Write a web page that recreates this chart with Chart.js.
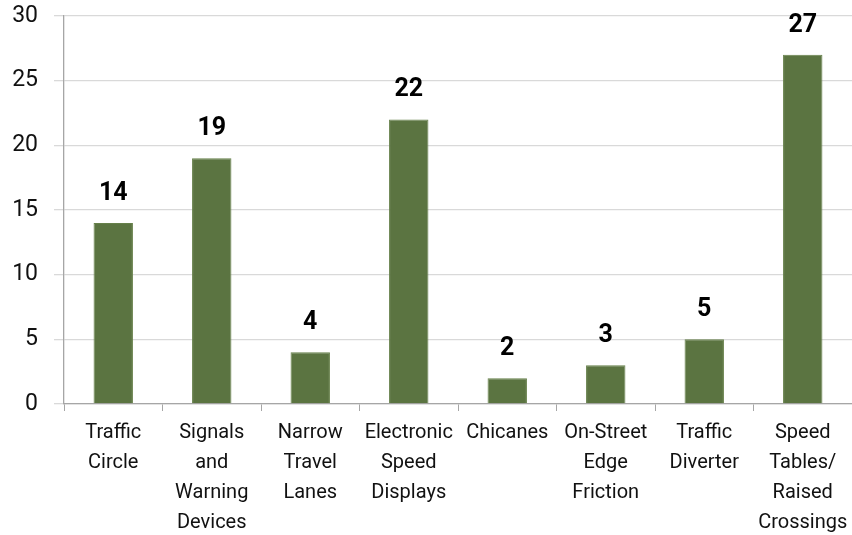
<!DOCTYPE html>
<html>
<head>
<meta charset="utf-8">
<script src="https://cdn.jsdelivr.net/npm/chart.js@4"></script>
<style>
  html, body { margin: 0; padding: 0; background: #fff; }
  #wrap { width: 852px; height: 535px; }
</style>
</head>
<body>
<div id="wrap"><canvas id="measures"></canvas></div>
<script>
var categories = [
	["Traffic", "Circle"],
	["Signals", "and", "Warning", "Devices"],
	["Narrow", "Travel", "Lanes"],
	["Electronic", "Speed", "Displays"],
	["Chicanes"],
	["On-Street", "Edge", "Friction"],
	["Traffic", "Diverter"],
	["Speed", "Tables/", "Raised", "Crossings"]
];
var counts = [14, 19, 4, 22, 2, 3, 5, 27];
var yTicks = [0, 5, 10, 15, 20, 25, 30];

// value labels above each bar
var barValues = {
	id : "barValues",
	afterDatasetsDraw : function(chart) {
		var ctx = chart.ctx;
		var meta = chart.getDatasetMeta(0);
		ctx.save();
		ctx.font = "bold 25px Roboto";
		ctx.fillStyle = "#000";
		ctx.textAlign = "center";
		ctx.textBaseline = "alphabetic";
		meta.data.forEach(function(bar, i) {
			ctx.fillText(String(counts[i]), bar.x, bar.y - 23);
		});
		ctx.restore();
	}
};

var ctx = document.getElementById("measures");

new Chart(ctx, {
	type : "bar",
	data : {
		labels : categories,
		datasets : [{
			data : counts,
			backgroundColor : "#5b7441",
			borderColor : "#66804a",
			borderWidth : 1,
			categoryPercentage : 1,
			barPercentage : 0.4
		}]
	},
	options : {
		responsive : true,
		maintainAspectRatio : false,
		animation : false,
		layout : { padding : { top : 16, left : 0, right : 0, bottom : 0 } },
		plugins : {
			legend : { display : false },
			tooltip : { enabled : false }
		},
		scales : {
			x : {
				afterFit : function(scale) {
					scale.height = 131;
					scale.paddingLeft = 0;
					scale.paddingRight = 0;
				},
				grid : {
					offset : true,
					drawOnChartArea : false,
					drawTicks : true,
					tickLength : 7,
					color : "#a6a6a6"
				},
				border : { color : "#a6a6a6", width : 1.3 },
				ticks : {
					color : "#111",
					font : { family : "Roboto", size : 20, lineHeight : 1.5 },
					padding : 7,
					maxRotation : 0,
					autoSkip : false
				}
			},
			y : {
				min : 0,
				max : 30,
				afterBuildTicks : function(scale) {
					scale.ticks = yTicks.map(function(v) { return { value : v }; });
				},
				afterFit : function(scale) {
					scale.width = 64;
					scale.paddingTop = 0;
					scale.paddingBottom = 0;
				},
				grid : {
					color : "#d9d9d9",
					tickLength : 10,
					lineWidth : 1.3
				},
				border : { color : "#a6a6a6", width : 1.3 },
				ticks : {
					color : "#111",
					font : { family : "Roboto", size : 23 },
					padding : 16
				}
			}
		}
	},
	plugins : [barValues]
});
</script>
</body>
</html>
